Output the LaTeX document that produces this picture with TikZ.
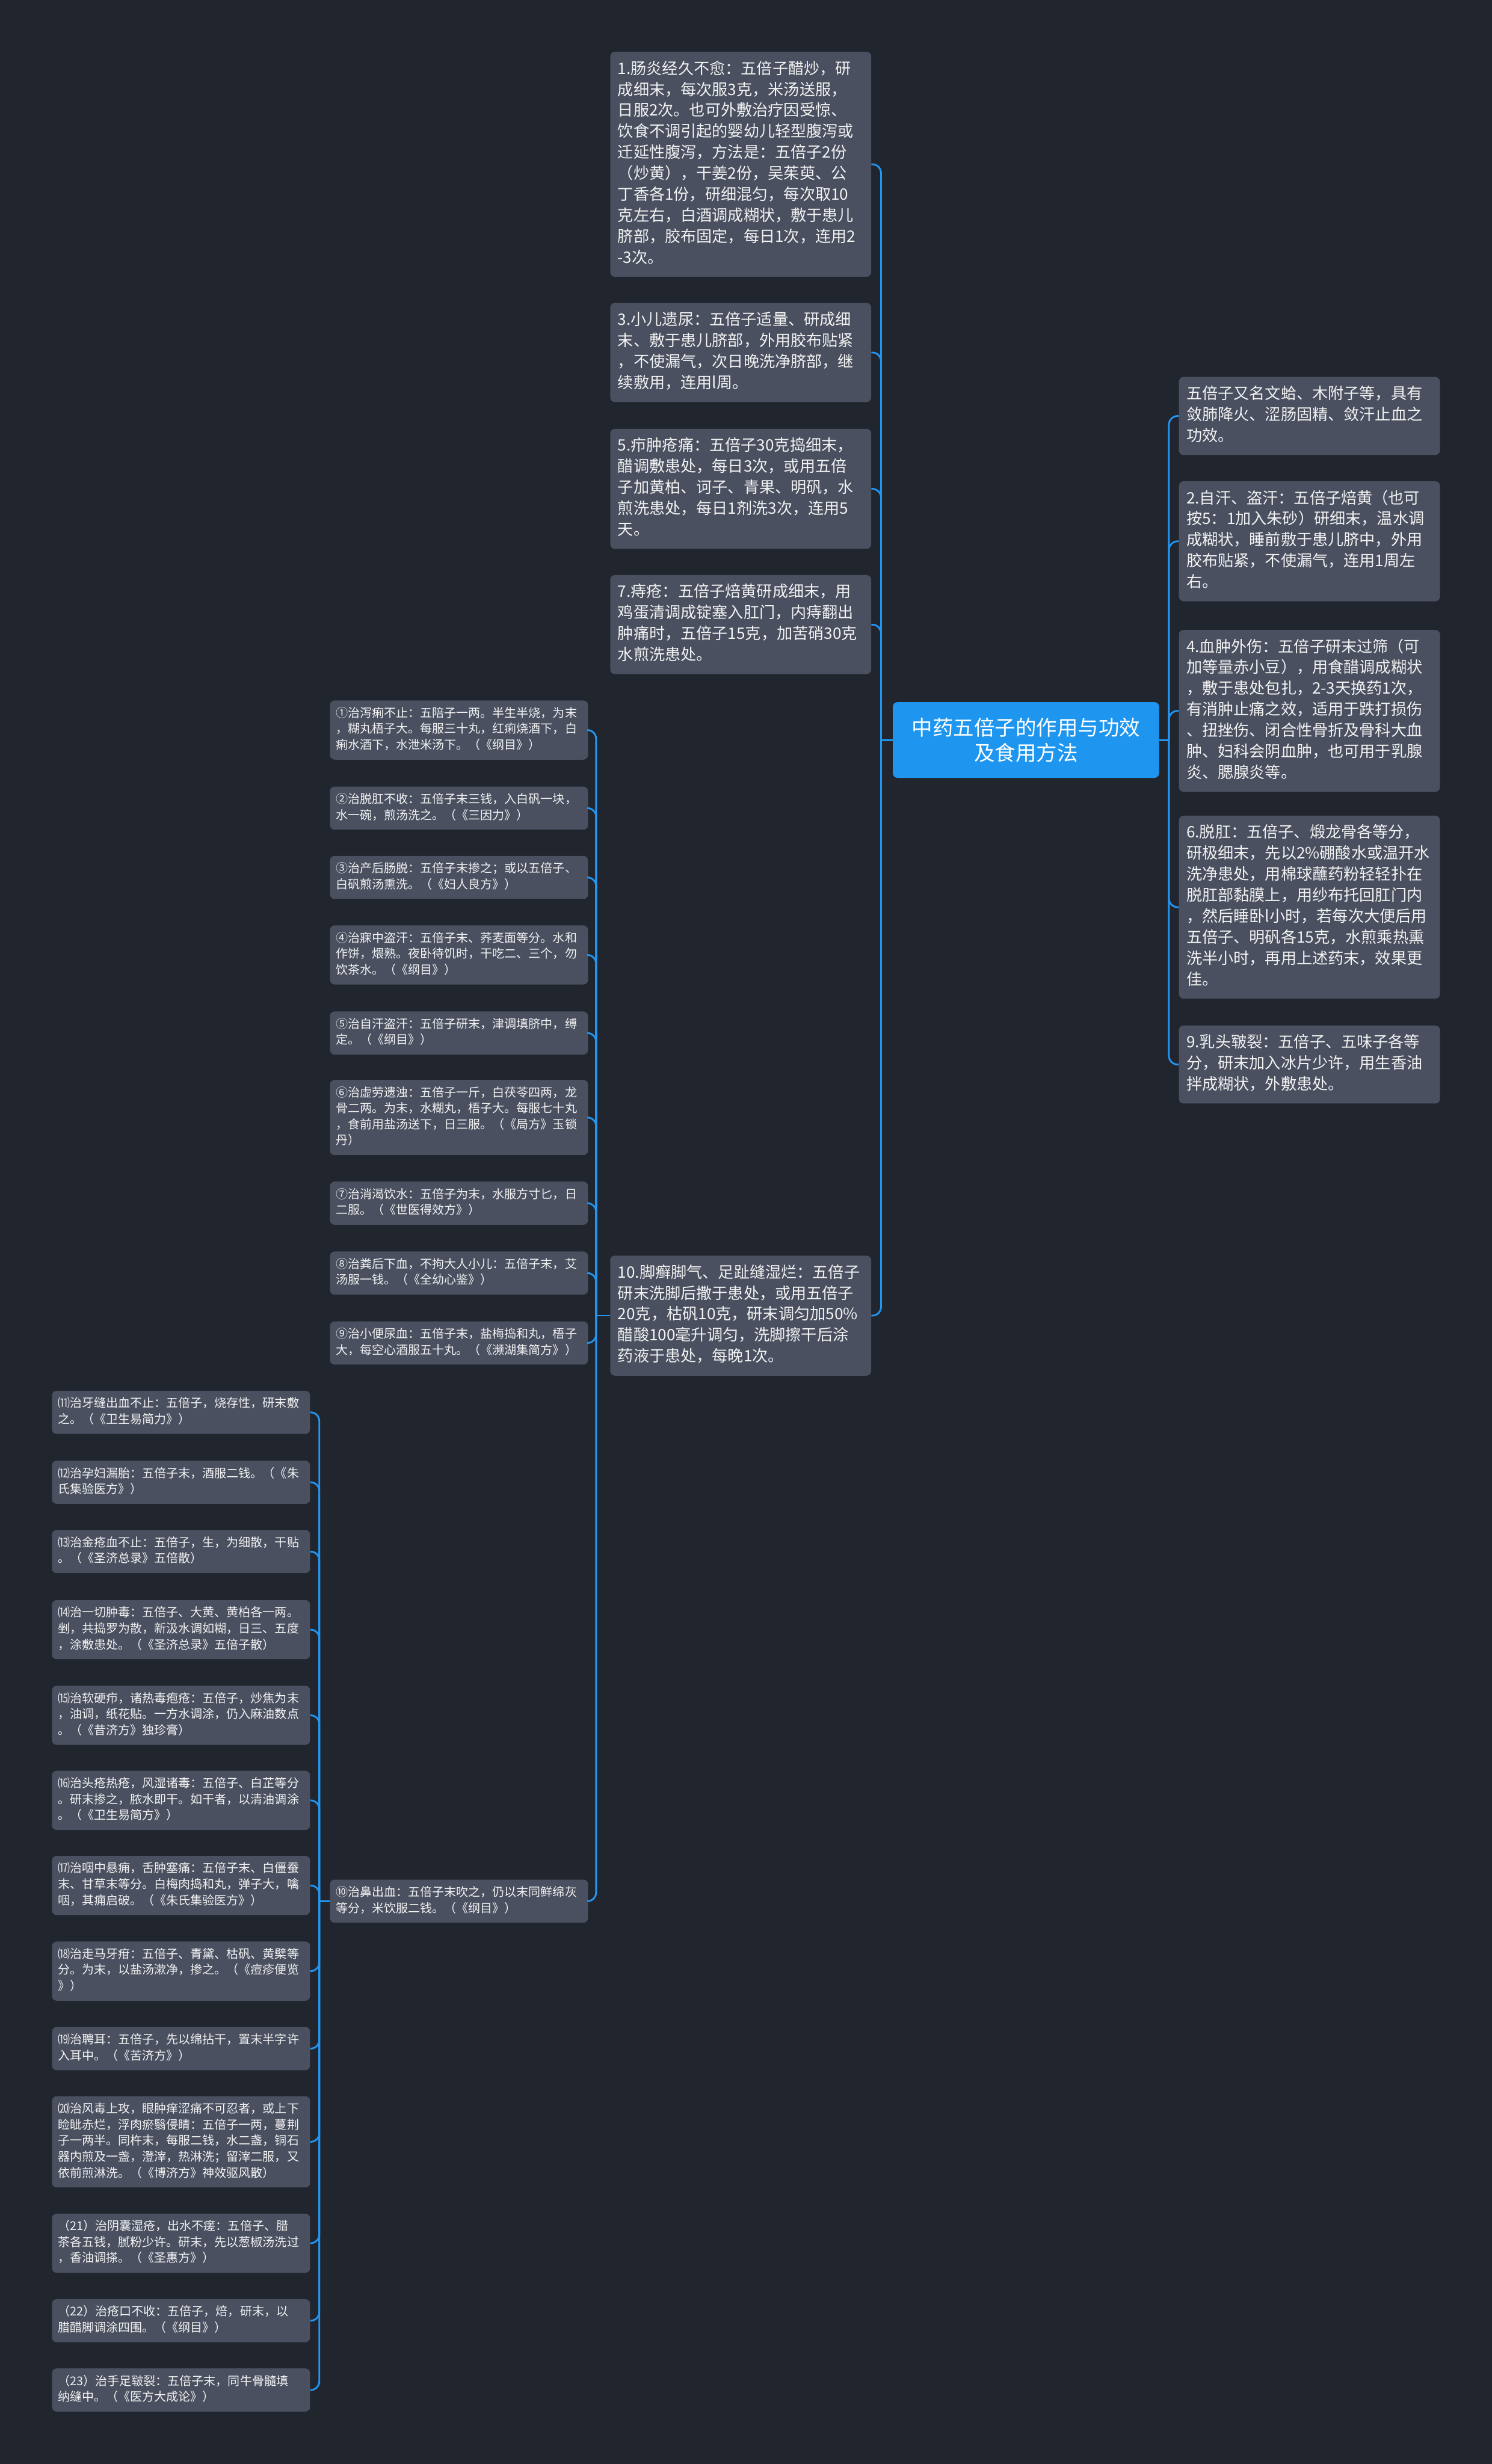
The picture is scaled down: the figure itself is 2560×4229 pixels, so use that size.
\documentclass[tikz,border=0pt]{standalone}
\usepackage{fontspec}
\setmainfont{Noto Sans CJK SC}
\definecolor{bg}{RGB}{33,37,46}
\definecolor{boxfill}{RGB}{74,80,96}
\definecolor{linkblue}{RGB}{33,150,243}
\definecolor{rootblue}{RGB}{30,150,240}
\definecolor{txt}{RGB}{242,242,242}
\begin{document}
\begin{tikzpicture}[x=1pt,y=-1pt,
  bigbox/.style={fill=boxfill, rounded corners=8pt, anchor=west, text width=422pt,
    inner xsep=13pt, inner ysep=13pt, align=left, text=txt,
    font=\fontsize{27}{36}\selectfont,
    execute at begin node=\strut, execute at end node=\strut},
  smallbox/.style={fill=boxfill, rounded corners=8pt, anchor=west, text width=423pt,
    inner xsep=10pt, inner ysep=9.5pt, align=left, text=txt,
    font=\fontsize{20.7}{27.5}\selectfont,
    execute at begin node=\strut, execute at end node=\strut},
  rootbox/.style={fill=rootblue, rounded corners=8pt, anchor=west, minimum width=457pt,
    minimum height=130pt, align=center, text=white, font=\fontsize{35.6}{43}\selectfont},
  conn/.style={draw=linkblue, line width=3pt, rounded corners=15pt}]
\fill[bg] (0,0) rectangle (2560,4229);
\useasboundingbox (0,0) rectangle (2560,4229);

% root
\node[rootbox] (root) at (1532,1270) {中药五倍子的作用与功效\\及食用方法};

% top-middle column
\node[bigbox] (b1) at (1047,282) {1.肠炎经久不愈：五倍子醋炒，研\\成细末，每次服3克，米汤送服，\\日服2次。也可外敷治疗因受惊、\\饮食不调引起的婴幼儿轻型腹泻或\\迁延性腹泻，方法是：五倍子2份\\（炒黄），干姜2份，吴茱萸、公\\丁香各1份，研细混匀，每次取10\\克左右，白酒调成糊状，敷于患儿\\脐部，胶布固定，每日1次，连用2\\-3次。};
\node[bigbox] (b3) at (1047,605) {3.小儿遗尿：五倍子适量、研成细\\末、敷于患儿脐部，外用胶布贴紧\\，不使漏气，次日晚洗净脐部，继\\续敷用，连用l周。};
\node[bigbox] (b5) at (1047,839) {5.疖肿疮痛：五倍子30克捣细末，\\醋调敷患处，每日3次，或用五倍\\子加黄柏、诃子、青果、明矾，水\\煎洗患处，每日1剂洗3次，连用5\\天。};
\node[bigbox] (b7) at (1047,1072) {7.痔疮：五倍子焙黄研成细末，用\\鸡蛋清调成锭塞入肛门，内痔翻出\\肿痛时，五倍子15克，加苦硝30克\\水煎洗患处。};
\node[bigbox] (b10) at (1047,2258) {10.脚癣脚气、足趾缝湿烂：五倍子\\研末洗脚后撒于患处，或用五倍子\\20克，枯矾10克，研末调匀加50\%\\醋酸100毫升调匀，洗脚擦干后涂\\药液于患处，每晚1次。};

% right column
\node[bigbox] (rA) at (2023,714) {五倍子又名文蛤、木附子等，具有\\敛肺降火、涩肠固精、敛汗止血之\\功效。};
\node[bigbox] (r2) at (2023,929) {2.自汗、盗汗：五倍子焙黄（也可\\按5：1加入朱砂）研细末，温水调\\成糊状，睡前敷于患儿脐中，外用\\胶布贴紧，不使漏气，连用1周左\\右。};
\node[bigbox] (r4) at (2023,1220) {4.血肿外伤：五倍子研末过筛（可\\加等量赤小豆），用食醋调成糊状\\，敷于患处包扎，2-3天换药1次，\\有消肿止痛之效，适用于跌打损伤\\、扭挫伤、闭合性骨折及骨科大血\\肿、妇科会阴血肿，也可用于乳腺\\炎、腮腺炎等。};
\node[bigbox] (r6) at (2023,1557) {6.脱肛：五倍子、煅龙骨各等分，\\研极细末，先以2\%硼酸水或温开水\\洗净患处，用棉球蘸药粉轻轻扑在\\脱肛部黏膜上，用纱布托回肛门内\\，然后睡卧l小时，若每次大便后用\\五倍子、明矾各15克，水煎乘热熏\\洗半小时，再用上述药末，效果更\\佳。};
\node[bigbox] (r9) at (2023,1827) {9.乳头皲裂：五倍子、五味子各等\\分，研末加入冰片少许，用生香油\\拌成糊状，外敷患处。};

% middle small column
\node[smallbox] (m1) at (566,1253) {①治泻痢不止：五陪子一两。半生半烧，为末\\，糊丸梧子大。每服三十丸，红痢烧酒下，白\\痢水酒下，水泄米汤下。（《纲目》）};
\node[smallbox] (m2) at (566,1387) {②治脱肛不收：五倍子末三钱，入白矾一块，\\水一碗，煎汤洗之。（《三因力》）};
\node[smallbox] (m3) at (566,1506) {③治产后肠脱：五倍子末掺之；或以五倍子、\\白矾煎汤熏洗。（《妇人良方》）};
\node[smallbox] (m4) at (566,1639) {④治寐中盗汗：五倍子末、荞麦面等分。水和\\作饼，煨熟。夜卧待饥时，干吃二、三个，勿\\饮茶水。（《纲目》）};
\node[smallbox] (m5) at (566,1773) {⑤治自汗盗汗：五倍子研末，津调填脐中，缚\\定。（《纲目》）};
\node[smallbox] (m6) at (566,1918) {⑥治虚劳遗浊：五倍子一斤，白茯苓四两，龙\\骨二两。为末，水糊丸，梧子大。每服七十丸\\，食前用盐汤送下，日三服。（《局方》玉锁\\丹）};
\node[smallbox] (m7) at (566,2065) {⑦治消渴饮水：五倍子为末，水服方寸匕，日\\二服。（《世医得效方》）};
\node[smallbox] (m8) at (566,2185) {⑧治粪后下血，不拘大人小儿：五倍子末，艾\\汤服一钱。（《全幼心鉴》）};
\node[smallbox] (m9) at (566,2305) {⑨治小便尿血：五倍子末，盐梅捣和丸，梧子\\大，每空心酒服五十丸。（《濒湖集简方》）};
\node[smallbox] (m10) at (566,3263) {⑩治鼻出血：五倍子末吹之，仍以末同鲜绵灰\\等分，米饮服二钱。（《纲目》）};

% left column
\node[smallbox] (l11) at (89,2424) {⑾治牙缝出血不止：五倍子，烧存性，研末敷\\之。（《卫生易简力》）};
\node[smallbox] (l12) at (89,2544) {⑿治孕妇漏胎：五倍子末，酒服二钱。（《朱\\氏集验医方》）};
\node[smallbox] (l13) at (89,2663) {⒀治金疮血不止：五倍子，生，为细散，干贴\\。（《圣济总录》五倍散）};
\node[smallbox] (l14) at (89,2797) {⒁治一切肿毒：五倍子、大黄、黄柏各一两。\\剉，共捣罗为散，新汲水调如糊，日三、五度\\，涂敷患处。（《圣济总录》五倍子散）};
\node[smallbox] (l15) at (89,2944) {⒂治软硬疖，诸热毒疱疮：五倍子，炒焦为末\\，油调，纸花贴。一方水调涂，仍入麻油数点\\。（《昔济方》独珍膏）};
\node[smallbox] (l16) at (89,3090) {⒃治头疮热疮，风湿诸毒：五倍子、白芷等分\\。研末掺之，脓水即干。如干者，以清油调涂\\。（《卫生易简方》）};
\node[smallbox] (l17) at (89,3236) {⒄治咽中悬痈，舌肿塞痛：五倍子末、白僵蚕\\末、甘草末等分。白梅肉捣和丸，弹子大，噙\\咽，其痈启破。（《朱氏集验医方》）};
\node[smallbox] (l18) at (89,3383) {⒅治走马牙疳：五倍子、青黛、枯矾、黄檗等\\分。为末，以盐汤漱净，掺之。（《痘疹便览\\》）};
\node[smallbox] (l19) at (89,3516) {⒆治聘耳：五倍子，先以绵拈干，置末半字许\\入耳中。（《苦济方》）};
\node[smallbox] (l20) at (89,3676) {⒇治风毒上攻，眼肿痒涩痛不可忍者，或上下\\睑眦赤烂，浮肉瘀翳侵睛：五倍子一两，蔓荆\\子一两半。同杵末，每服二钱，水二盏，铜石\\器内煎及一盏，澄滓，热淋洗；留滓二服，又\\依前煎淋洗。（《博济方》神效驱风散）};
\node[smallbox] (l21) at (89,3850) {（21）治阴囊湿疮，出水不瘥：五倍子、腊\\茶各五钱，腻粉少许。研末，先以葱椒汤洗过\\，香油调搽。（《圣惠方》）};
\node[smallbox] (l22) at (89,3983) {（22）治疮口不收：五倍子，焙，研末，以\\腊醋脚调涂四围。（《纲目》）};
\node[smallbox] (l23) at (89,4102) {（23）治手足皲裂：五倍子末，同牛骨髓填\\纳缝中。（《医方大成论》）};

% spine coordinates
\coordinate (sL) at (1512,0);
\coordinate (sR) at (2006,0);
\coordinate (sM) at (1023,0);
\coordinate (sW) at (548,0);

% connectors
\draw[conn] (root.west) -- (root.west -| sL);
\foreach \c in {b1,b3,b5,b7,b10}
  \draw[conn] (root.west -| sL) -- (\c.east -| sL) -- (\c.east);
\draw[conn] (root.east) -- (root.east -| sR);
\foreach \c in {rA,r2,r4,r6,r9}
  \draw[conn] (root.east -| sR) -- (\c.west -| sR) -- (\c.west);
\draw[conn] (b10.west) -- (b10.west -| sM);
\foreach \c in {m1,m2,m3,m4,m5,m6,m7,m8,m9,m10}
  \draw[conn] (b10.west -| sM) -- (\c.east -| sM) -- (\c.east);
\draw[conn] (m10.west) -- (m10.west -| sW);
\foreach \c in {l11,l12,l13,l14,l15,l16,l17,l18,l19,l20,l21,l22,l23}
  \draw[conn] (m10.west -| sW) -- (\c.east -| sW) -- (\c.east);
\end{tikzpicture}
\end{document}
